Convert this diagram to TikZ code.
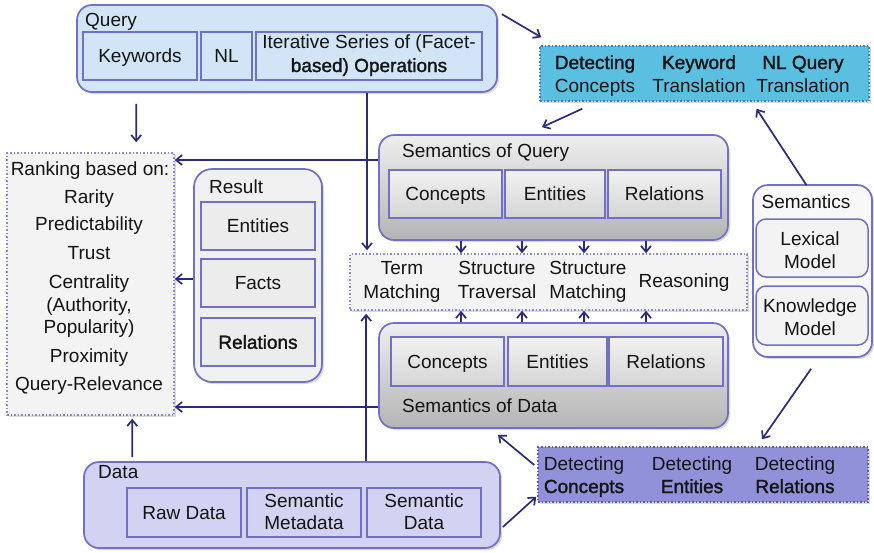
\documentclass[tikz,border=0pt]{standalone}
\usepackage{fontspec}
\setmainfont{Liberation Sans}
\newfontfamily\fakebf{Liberation Sans}[FakeBold=1.5]
\usetikzlibrary{fit,shadows,arrows.meta}
\definecolor{bord}{HTML}{7070C8}
\definecolor{arrc}{HTML}{2B2B7D}
\definecolor{txtc}{HTML}{141414}
\definecolor{qfill}{HTML}{D2E5F7}
\definecolor{dfill}{HTML}{D2D2F2}
\definecolor{dtopf}{HTML}{5BBFE2}
\definecolor{dtopb}{HTML}{3A80C0}
\definecolor{dbotf}{HTML}{9191D9}
\definecolor{dbotb}{HTML}{5A5AB8}
\definecolor{rankf}{HTML}{F3F3F3}
\definecolor{rankb}{HTML}{8A8AD0}
\definecolor{sgt}{HTML}{EEEEEE}
\definecolor{sgb}{HTML}{B4B4B4}
\definecolor{igt}{HTML}{F2F2F2}
\definecolor{igb}{HTML}{D4D4D4}
\definecolor{resf}{HTML}{F0F0F0}
\definecolor{resi}{HTML}{ECECEC}
\definecolor{semf}{HTML}{F8F8F8}
\definecolor{semi}{HTML}{F3F3F3}
\begin{document}
\begin{tikzpicture}[x=1pt,y=-1pt,
  every node/.style={font=\fontsize{19}{23}\selectfont, text=txtc},
  shad/.style={drop shadow={opacity=0.3, shadow xshift=2pt, shadow yshift=-2pt}},
  outer/.style={draw=bord, line width=1.7pt, rounded corners=15pt, inner sep=0pt, shad},
  ibox/.style={draw=bord, line width=1.5pt, inner sep=0pt},
  ishade/.style={top color=igt, bottom color=igb},
  dotbox/.style={draw, dotted, line width=1.5pt, inner sep=0pt, shad},
  txt/.style={anchor=base, inner sep=0pt},
  ctr/.style={inner sep=0pt, text height=13.6pt, text depth=0pt},
  ttl/.style={anchor=base west, inner sep=0pt},
  arr/.style={draw=arrc, line width=1.7pt, -{Straight Barb[length=6pt,width=10pt]}}
]
\useasboundingbox (0,0) rectangle (874,552);

% Query
\node[outer, fill=qfill, fit={(77,5)(497,92)}] (query) {};
\node[ttl] (qt) at (85,26) {Query};
\node[ibox, fill=qfill, fit={(83,32)(197,80)}] (kw) {};
\node[ctr] (kwt) at (kw) {Keywords};
\node[ibox, fill=qfill, fit={(201,32)(252,80)}] (nl) {};
\node[ctr] (nlt) at (nl) {NL};
\node[ibox, fill=qfill, fit={(256,32)(482,80)}] (iter) {};
\node[txt] (it1) at (369,48) {Iterative Series of (Facet-};
\node[txt] (it2) at (369,72) {\fakebf based) Operations};

% Detect top
\node[dotbox, draw=dtopb, fill=dtopf, fit={(540,46)(869,101)}] (dtop) {};
\node[txt] (dt1) at (595,69) {\fakebf Detecting};
\node[txt] (dt2) at (595,92) {Concepts};
\node[txt] (dt3) at (699,69) {\fakebf Keyword};
\node[txt] (dt4) at (699,92) {Translation};
\node[txt] (dt5) at (803,69) {\fakebf NL Query};
\node[txt] (dt6) at (803,92) {Translation};

% Ranking
\node[dotbox, draw=rankb, fill=rankf, fit={(7,153)(174,415)}] (rank) {};
\node[txt] (r0) at (90,175) {Ranking based on:};
\node[txt] (r1) at (89,203) {Rarity};
\node[txt] (r2) at (89,230) {Predictability};
\node[txt] (r3) at (89,259) {Trust};
\node[txt] (r4) at (89,288) {Centrality};
\node[txt] (r5) at (89,311) {(Authority,};
\node[txt] (r6) at (89,333) {Popularity)};
\node[txt] (r7) at (89,362) {Proximity};
\node[txt] (r8) at (89,390) {Query-Relevance};

% Result
\node[outer, rounded corners=18pt, fill=resf, fit={(194,169)(322,382)}] (result) {};
\node[ttl] (rt) at (209,193) {Result};
\node[ibox, fill=resi, fit={(201,202)(315,250)}] (ent) {};
\node[ctr] (entt) at (ent) {Entities};
\node[ibox, fill=resi, fit={(201,259)(315,307)}] (fac) {};
\node[ctr] (fact) at (fac) {Facts};
\node[ibox, fill=resi, fit={(201,318)(315,366)}] (rel) {};
\node[ctr] (relt) at (rel) {\fakebf Relations};

% Semantics of Query
\node[outer, top color=sgt, bottom color=sgb, fit={(379,135)(728,240)}] (semq) {};
\node[ttl] (sqt) at (402,157) {Semantics of Query};
\node[ibox, ishade, fit={(389,170)(502,218)}] (qc) {};
\node[ctr] (qct) at (qc) {Concepts};
\node[ibox, ishade, fit={(505,170)(605,218)}] (qe) {};
\node[ctr] (qet) at (qe) {Entities};
\node[ibox, ishade, fit={(608,170)(721,218)}] (qr) {};
\node[ctr] (qrt) at (qr) {Relations};

% Matching
\node[dotbox, draw=rankb, fill=rankf, fit={(350,254)(747,310)}] (match) {};
\node[txt] (m1) at (402,274) {Term};
\node[txt] (m2) at (402,298) {Matching};
\node[txt] (m3) at (497,274) {Structure};
\node[txt] (m4) at (497,298) {Traversal};
\node[txt] (m5) at (588,274) {Structure};
\node[txt] (m6) at (588,298) {Matching};
\node[txt] (m7) at (684,287) {Reasoning};

% Semantics of Data
\node[outer, top color=sgt, bottom color=sgb, fit={(379,323)(728,428)}] (semd) {};
\node[ibox, ishade, fit={(391,337)(504,386)}] (dc) {};
\node[ctr] (dct) at (dc) {Concepts};
\node[ibox, ishade, fit={(508,337)(607,386)}] (de) {};
\node[ctr] (det) at (de) {Entities};
\node[ibox, ishade, fit={(609,337)(723,386)}] (dr) {};
\node[ctr] (drt) at (dr) {Relations};
\node[ttl] (sdt) at (402,412) {Semantics of Data};

% Semantics (right)
\node[outer, fill=semf, fit={(753,185)(872,357)}] (sem) {};
\node[txt] (st) at (806,208) {Semantics};
\node[ibox, rounded corners=10pt, fill=semi, fit={(756,219)(868,277)}] (lex) {};
\node[txt] (l1) at (810,245) {Lexical};
\node[txt] (l2) at (810,268) {Model};
\node[ibox, rounded corners=10pt, fill=semi, fit={(756,286)(868,345)}] (know) {};
\node[txt] (k1) at (810,312) {Knowledge};
\node[txt] (k2) at (810,335) {Model};

% Detect bottom
\node[dotbox, draw=dbotb, fill=dbotf, fit={(538,447)(868,502)}] (dbot) {};
\node[txt] (db1) at (584,470) {Detecting};
\node[txt] (db2) at (584,493) {\fakebf Concepts};
\node[txt] (db3) at (692,470) {Detecting};
\node[txt] (db4) at (692,493) {\fakebf Entities};
\node[txt] (db5) at (795,470) {Detecting};
\node[txt] (db6) at (795,493) {\fakebf Relations};

% Data
\node[outer, fill=dfill, fit={(84,462)(500,548)}] (data) {};
\node[ttl] (dtt) at (98,478) {Data};
\node[ibox, fill=dfill, fit={(127,488)(241,537)}] (raw) {};
\node[ctr] (rawt) at (raw) {Raw Data};
\node[ibox, fill=dfill, fit={(247,488)(361,537)}] (meta) {};
\node[txt] (mt1) at (304,507) {Semantic};
\node[txt] (mt2) at (304,529) {Metadata};
\node[ibox, fill=dfill, fit={(367,488)(481,537)}] (sdat) {};
\node[txt] (sd1) at (424,507) {Semantic};
\node[txt] (sd2) at (424,529) {Data};

% Connectors
\draw[arr] ([shift={(4,10)}]query.north east) -- ([shift={(2,-8)}]dtop.north west);
\draw[arr] ([shift={(43,7)}]dtop.south west) -- ([shift={(-11.5,-7)}]semq.north);
\draw[arr] ([shift={(-6,1)}]sem.north) -- ([shift={(52,7)}]dtop.south);
\draw[arr] ([shift={(-1.5,11)}]sem.south) -- ([shift={(59,-7)}]dbot.north);
\draw[arr] ([shift={(-3,-9.5)}]dbot.west) -- ([shift={(-55.5,6)}]semd.south);
\draw[arr] ([shift={(2,22)}]data.east) -- ([shift={(-1,-6)}]dbot.south west);
\draw[arr] ([shift={(60,11)}]query.south west) -- ([shift={(130,-10)}]rank.north west);
\draw[arr] ([shift={(49,-4)}]data.north west) -- ([shift={(126,3)}]rank.south west);
\draw[arr, shorten >=3pt] ([shift={(-2,0)}]iter.south |- query.south) coordinate (v1) -- (v1 |- match.north);
\draw[arr, shorten >=3pt] ([shift={(283,0)}]data.north west) coordinate (v2) -- (v2 |- match.south);
\draw[arr] ([shift={(0,-27.5)}]semq.west) coordinate (h1) -- (h1 -| rank.east);
\draw[arr] ([shift={(0,3.5)}]result.west) coordinate (h3) -- (h3 -| rank.east);
\draw[arr] ([shift={(0,31.5)}]semd.west) coordinate (h2) -- (h2 -| rank.east);
\coordinate (s1) at (461,0);
\coordinate (s2) at (522,0);
\coordinate (s3) at (584,0);
\coordinate (s4) at (646,0);
\foreach \s in {s1,s2,s3,s4}{
  \draw[arr] (semq.south -| \s) -- (match.north -| \s);
  \draw[arr] (semd.north -| \s) -- (match.south -| \s);
}
\end{tikzpicture}
\end{document}
